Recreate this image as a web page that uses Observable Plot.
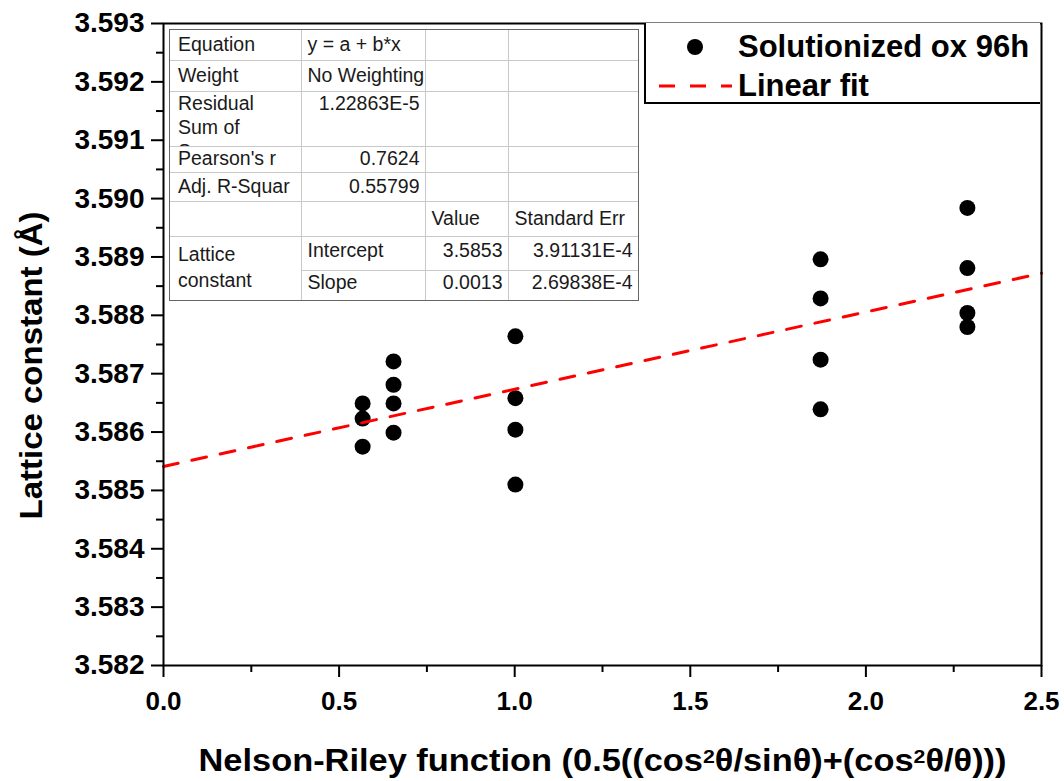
<!DOCTYPE html>
<html>
<head>
<meta charset="utf-8">
<script src="https://cdn.jsdelivr.net/npm/d3@7"></script>
<script src="https://cdn.jsdelivr.net/npm/@observablehq/plot@0.6"></script>
<style>
  body { margin: 0; background: #fff; }
  #wrap { position: relative; width: 1064px; height: 781px; font-family: "Liberation Sans", Arial, sans-serif; background: #fff; }
  #wrap > svg { position: absolute; left: 0; top: 0; }
  #statsBox { position: absolute; left: 169px; top: 29px; border: 1px solid #666; background: #fff; }
  #stats { border-collapse: collapse; border-style: hidden; table-layout: fixed; font-size: 19.5px; color: #1a1a1a; }
  #stats td { border: 1px solid #c8c8c8; padding: 0; overflow: visible; }
  #stats td div.c { box-sizing: border-box; display: flex; align-items: center; justify-content: flex-start; padding: 0 5px 3px 8px; white-space: nowrap; overflow: visible; line-height: 22px; }
  #stats td div.c.col1 { padding-left: 6px; }
  #stats td div.c.r { justify-content: flex-end; }
  #stats td div.c.top { align-items: flex-start; padding-top: 0; padding-bottom: 0; line-height: 24px; margin-top: -1px; }
  #stats td div.c.clip { overflow: hidden; }
  #legend { position: absolute; left: 644px; top: 23px; width: 394px; height: 79px; border: 2px solid #000; border-top: none; border-right: none; background: #fff; }
  #legend .item { position: absolute; left: 0; height: 36px; font-weight: bold; font-size: 31px; color: #000; }
  #legend .item span { position: absolute; left: 92px; top: 0; line-height: 36px; white-space: nowrap; }
</style>
</head>
<body>
<div id="wrap"></div>
<script>
// ---- data ----
const nrX = [0.567, 0.567, 0.567, 0.655, 0.655, 0.655, 0.655, 1.002, 1.002, 1.002, 1.002, 1.871, 1.871, 1.871, 1.871, 2.289, 2.289, 2.289, 2.289];
const latticeA = [3.58649, 3.58623, 3.58575, 3.58721, 3.58681, 3.58649, 3.58599, 3.58764, 3.58658, 3.58604, 3.58510, 3.58896, 3.58829, 3.58724, 3.58639, 3.58984, 3.58881, 3.58804, 3.58780];
const fitX = [0, 2.5];
const fitY = [3.58541, 3.58872];
const xTickValues = [0, 0.5, 1.0, 1.5, 2.0, 2.5];
const xMinorTicks = [0.25, 0.75, 1.25, 1.75, 2.25];
const yTickValues = [3.582, 3.583, 3.584, 3.585, 3.586, 3.587, 3.588, 3.589, 3.590, 3.591, 3.592, 3.593];
const yMinorTicks = [3.5825, 3.5835, 3.5845, 3.5855, 3.5865, 3.5875, 3.5885, 3.5895, 3.5905, 3.5915, 3.5925];
const xTitleParts = [["Nelson-Riley function (0.5((cos", false], ["2", true], ["θ/sinθ)+(cos", false], ["2", true], ["θ/θ)))", false]];
const xTitle = xTitleParts.map(p => p[0]).join("");
const yTitle = "Lattice constant (Å)";
const seriesNames = ["Solutionized ox 96h", "Linear fit"];
const statsRows = [
  ["Equation", "y = a + b*x", "", ""],
  ["Weight", "No Weighting", "", ""],
  ["Residual Sum of Squares", "1.22863E-5", "", ""],
  ["Pearson's r", "0.7624", "", ""],
  ["Adj. R-Squar", "0.55799", "", ""],
  ["", "", "Value", "Standard Err"],
  ["Lattice constant", "Intercept", "3.5853", "3.91131E-4"],
  ["", "Slope", "0.0013", "2.69838E-4"]
];

const points = nrX.map((x, i) => ({x, y: latticeA[i]}));
const fit = fitX.map((x, i) => ({x, y: fitY[i]}));

const chart = Plot.plot({
  width: 1064,
  height: 781,
  marginLeft: 163,
  marginRight: 23,
  marginTop: 23,
  marginBottom: 116,
  x: {domain: [0, 2.5]},
  y: {domain: [3.582, 3.593]},
  style: {fontFamily: "'Liberation Sans', Arial, sans-serif", background: "#fff", color: "#000"},
  marks: [
    Plot.dot(points, {x: "x", y: "y", r: 8, fill: "#000", stroke: "none"}),
    Plot.line(fit, {x: "x", y: "y", stroke: "#ff0000", strokeWidth: 3, strokeDasharray: "15,14"}),
    Plot.frame({stroke: "#000", strokeWidth: 2}),
    Plot.axisX({ticks: xTickValues, tickSize: 12, tickPadding: 14, fontSize: 26, fontWeight: "bold", tickFormat: d3.format(".1f"), label: null, strokeWidth: 2}),
    Plot.axisX({ticks: xMinorTicks, tickSize: 7, text: null, label: null, strokeWidth: 2}),
    Plot.axisY({ticks: yTickValues, tickSize: 12, tickPadding: 7, fontSize: 28, fontWeight: "bold", tickFormat: d3.format(".3f"), label: null, strokeWidth: 2}),
    Plot.axisY({ticks: yMinorTicks, tickSize: 7, text: null, label: null, strokeWidth: 2}),
    Plot.text([xTitle], {text: d => d, frameAnchor: "bottom", textAnchor: "middle", lineAnchor: "middle", dx: 0, dy: 96, fontSize: 31, fontWeight: "bold", fill: "#000"}),
    Plot.text([yTitle], {text: d => d, frameAnchor: "left", textAnchor: "middle", lineAnchor: "middle", dx: -131, dy: 21, rotate: -90, fontSize: 31, fontWeight: "bold", fill: "#000"})
  ]
});

const wrap = document.getElementById("wrap");
wrap.appendChild(chart);

// post-process the axis titles: real superscripts and the reference's text extents
d3.select(chart).selectAll("text").each(function() {
  const t = this.textContent;
  if (t === xTitle) {
    const el = d3.select(this);
    el.text(null);
    xTitleParts.forEach(([s, sup], i) => {
      const ts = el.append("tspan").text(s);
      if (sup) ts.attr("dy", "-0.45em").attr("font-size", "0.62em");
      else if (i > 0) ts.attr("dy", "0.279em");
    });
    el.attr("textLength", 808).attr("lengthAdjust", "spacingAndGlyphs");
  } else if (t === yTitle) {
    d3.select(this).attr("textLength", 308).attr("lengthAdjust", "spacingAndGlyphs");
  }
});

// ---- fit statistics inset table ----
const colW = [131, 124, 83, 130];
const rowH = [31, 31, 56, 26, 29, 35, 34, 30];
const box = document.createElement("div");
box.id = "statsBox";
const table = document.createElement("table");
table.id = "stats";
const cg = document.createElement("colgroup");
colW.forEach(w => { const c = document.createElement("col"); c.style.width = w + "px"; cg.appendChild(c); });
table.appendChild(cg);
statsRows.forEach((row, ri) => {
  const tr = document.createElement("tr");
  row.forEach((cell, ci) => {
    if (ri === 7 && ci === 0) return;
    const td = document.createElement("td");
    const d = document.createElement("div");
    d.className = "c";
    if (ci >= 1) d.classList.add("col1");
    d.style.width = (colW[ci] - 1) + "px";
    d.style.height = (rowH[ri] - 1) + "px";
    if (ri >= 6) d.style.paddingBottom = "7px";
    if (ri === 6 && ci === 0) {
      td.rowSpan = 2;
      d.style.height = (rowH[6] + rowH[7] - 1) + "px";
      d.style.lineHeight = "26px";
      d.style.paddingBottom = "4px";
      d.innerHTML = "Lattice<br>constant";
    } else if (ri === 2 && ci === 0) {
      d.classList.add("top", "clip");
      d.innerHTML = "Residual<br>Sum of<br>Squares";
    } else {
      d.textContent = cell;
      if (/^[0-9]/.test(cell)) d.classList.add("r");
      if (ri === 2) d.classList.add("top");
    }
    td.appendChild(d);
    tr.appendChild(td);
  });
  table.appendChild(tr);
});
box.appendChild(table);
wrap.appendChild(box);

// ---- legend ----
const legend = document.createElement("div");
legend.id = "legend";
legend.innerHTML = `
  <div class="item" style="top:6px;width:394px">
    <svg width="80" height="36" style="position:absolute;left:0;top:0"><circle cx="49" cy="18" r="8" fill="#000"/></svg>
    <span>${seriesNames[0]}</span>
  </div>
  <div class="item" style="top:45px;width:394px">
    <svg width="90" height="36" style="position:absolute;left:0;top:0"><line x1="13" y1="18" x2="86" y2="18" stroke="#ff0000" stroke-width="3" stroke-dasharray="16,15"/></svg>
    <span>${seriesNames[1]}</span>
  </div>`;
wrap.appendChild(legend);
</script>
</body>
</html>
